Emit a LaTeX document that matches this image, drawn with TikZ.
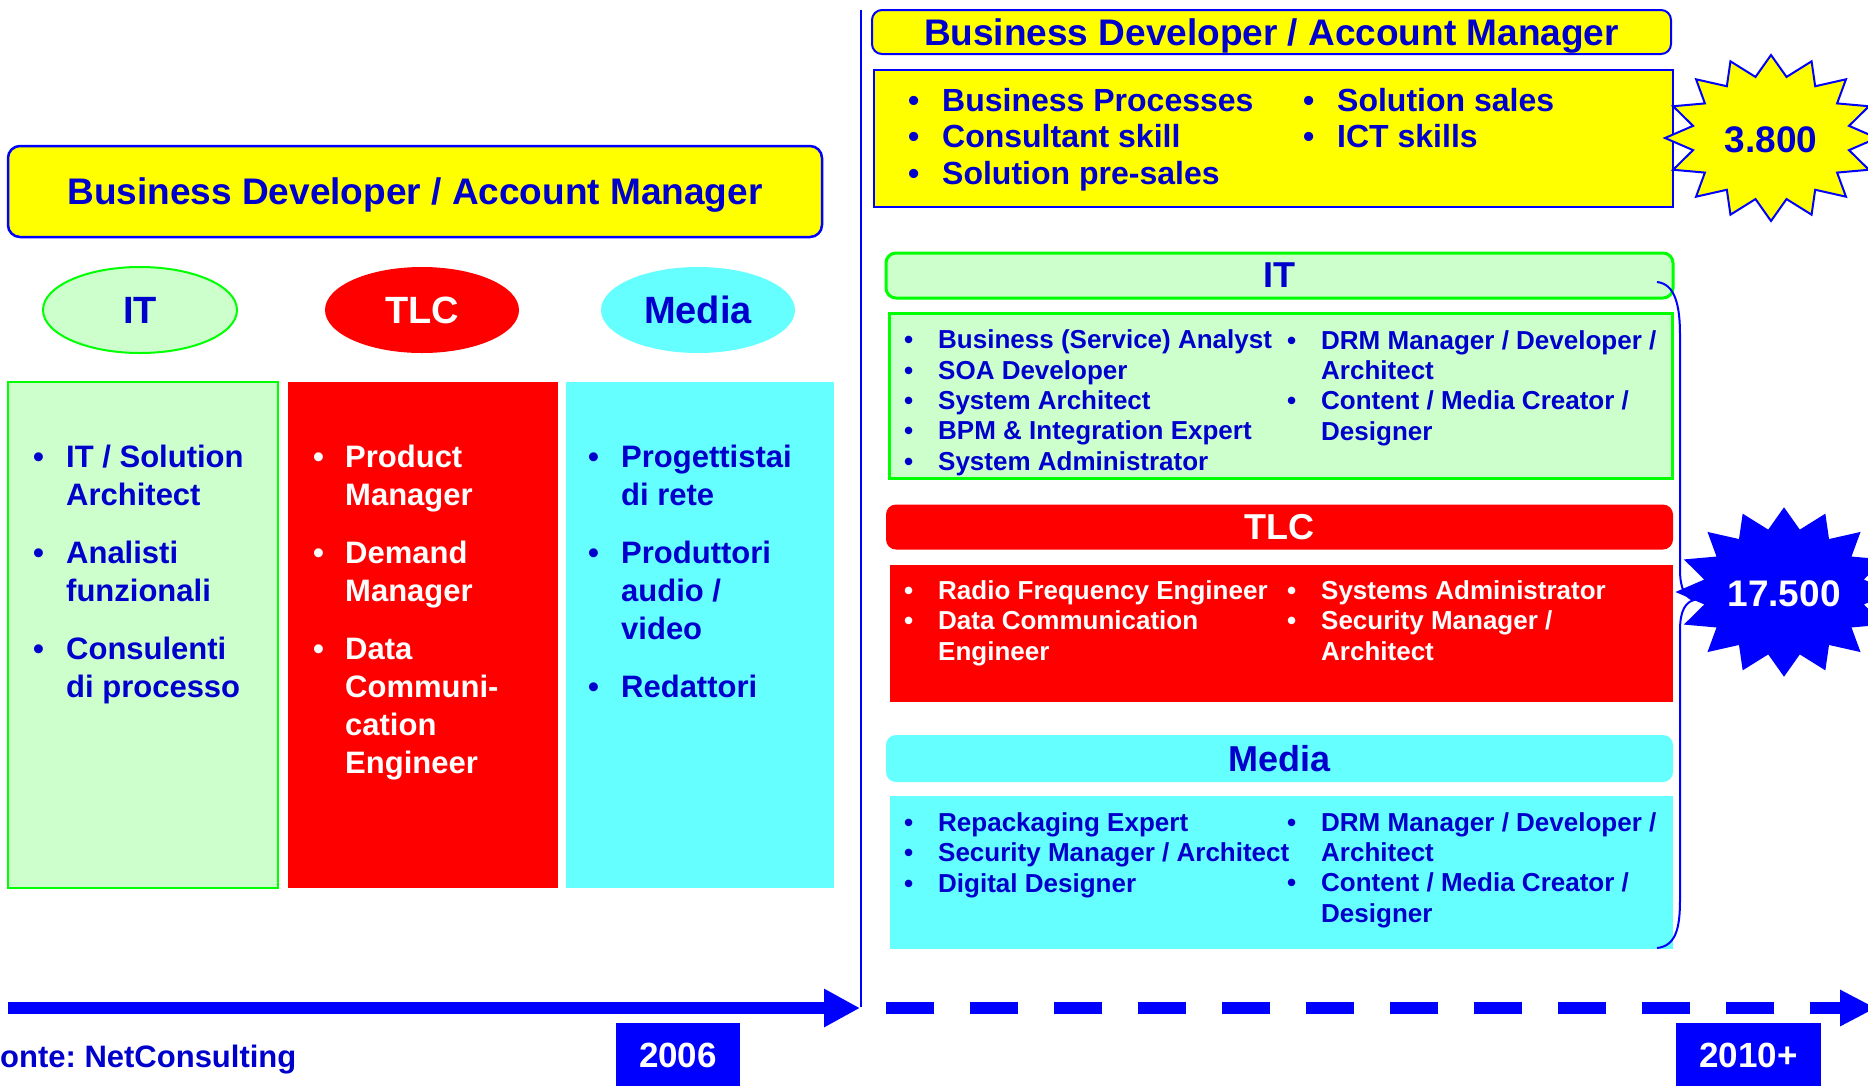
\documentclass[tikz,border=0pt]{standalone}
\usepackage{fontspec}
\setmainfont{Liberation Sans}
\usetikzlibrary{shapes.geometric,arrows.meta}
\definecolor{tblue}{RGB}{0,0,204}
\definecolor{ablue}{RGB}{0,0,255}
\definecolor{lgreen}{RGB}{204,255,204}
\definecolor{bgreen}{RGB}{0,255,0}
\definecolor{rred}{RGB}{255,0,0}
\definecolor{ccyan}{RGB}{102,255,255}
\definecolor{yyel}{RGB}{255,255,0}
\frenchspacing
\newcommand{\fs}[2]{\fontsize{#1}{#2}\selectfont\bfseries}
\newcommand{\bu}[1]{\makebox[#1][l]{•}}
\newcommand{\burst}[4]{%
  \filldraw[fill=#3, draw=#4, line width=2, line join=miter]
    plot[variable=\k, samples at={0,...,31}]
    ({#1+(1-0.25*mod(\k,2))*106*cos(\k*11.25)}, {#2+(1-0.25*mod(\k,2))*83*sin(\k*11.25)}) -- cycle;}
\tikzset{
  hdr/.style={draw=ablue, line width=2.5, fill=yyel, rounded corners=12, inner sep=0, font=\fs{37}{40}, text=tblue},
  oval/.style={ellipse, minimum width=194, minimum height=86, inner sep=0, font=\fs{38}{40}},
  colbox/.style={inner sep=0, minimum width=#1, minimum height=506},
  lstbig/.style={anchor=base west, align=left, inner sep=0, font=\fs{31}{38}},
  lsttop/.style={anchor=base west, align=left, inner sep=0, font=\fs{32}{36.5}, text=tblue},
  lstsm/.style={anchor=base west, align=left, inner sep=0, font=\fs{26}{30.3}},
  sechdr/.style={inner sep=0, rounded corners=10, minimum width=787, minimum height=45, font=\fs{36}{40}},
  secbody/.style={inner sep=0, minimum width=783},
  yearbox/.style={fill=ablue, inner sep=0, minimum height=64, text=white, font=\fs{35}{38}},
  startxt/.style={anchor=base, inner sep=0, font=\fs{37}{40}},
}
\begin{document}
\begin{tikzpicture}[x=1pt,y=-1pt]
\useasboundingbox (0,0) rectangle (1868,1085);
\clip (0,0) rectangle (1868,1085);

% ---------------- left (2006) ----------------
\node[hdr, minimum width=814, minimum height=91, text height=27, text depth=2] (bdL) at (415,191.5) {Business Developer / Account Manager};

\node[oval, fill=lgreen, draw=bgreen, line width=2, text=tblue] (eIT) at (140,310) {IT};
\node[oval, fill=rred, text=white] (eTLC) at (422,310) {TLC};
\node[oval, fill=ccyan, text=tblue] (eMed) at (698,310) {Media};

\node[colbox=270, fill=lgreen, draw=bgreen, line width=2] (cIT) at (143,635) {};
\node[colbox=270, fill=rred] (cTLC) at (423,635) {};
\node[colbox=268, fill=ccyan] (cMed) at (700,635) {};

% (base anchor = baseline of the last line)
\node[lstbig, text=tblue] (lIT) at (33,697) {\bu{33pt}IT / Solution\\\hspace*{33pt}Architect\\[20pt]\bu{33pt}Analisti\\\hspace*{33pt}funzionali\\[20pt]\bu{33pt}Consulenti\\\hspace*{33pt}di processo};
\node[lstbig, text=white] (lTLC) at (313,773) {\bu{32pt}Product\\\hspace*{32pt}Manager\\[20pt]\bu{32pt}Demand\\\hspace*{32pt}Manager\\[20pt]\bu{32pt}Data\\\hspace*{32pt}Communi-\\\hspace*{32pt}cation\\\hspace*{32pt}Engineer};
\node[lstbig, text=tblue] (lMed) at (588,697) {\bu{33pt}Progettistai\\\hspace*{33pt}di rete\\[20pt]\bu{33pt}Produttori\\\hspace*{33pt}audio /\\\hspace*{33pt}video\\[20pt]\bu{33pt}Redattori};

% separator
\coordinate (vT) at (861,10);
\coordinate (vB) at (861,1007);
\draw[ablue, line width=2] (vT) -- (vB);

% ---------------- right (2010+) ----------------
\node[hdr, line width=2, rounded corners=10, minimum width=799, minimum height=44, text height=27, text depth=0] (bdR) at (1271.5,32) {Business Developer / Account Manager};
\node[draw=ablue, line width=2, fill=yyel, inner sep=0, minimum width=799, minimum height=137] (skills) at (1273.5,138.5) {};
\node[lsttop] (sk1) at (908,184) {\bu{34pt}Business Processes\\\bu{34pt}Consultant skill\\\bu{34pt}Solution pre-sales};
\node[lsttop] (sk2) at (1303,147.5) {\bu{34pt}Solution sales\\\bu{34pt}ICT skills};

\burst{1771}{138}{yyel}{ablue}
\node[startxt, text=tblue] (n3800) at (1771,152) {3.800};

% IT
\node[sechdr, fill=lgreen, draw=bgreen, line width=3, text=tblue] (hIT) at (1279.5,275.5) {IT};
\node[secbody, minimum height=165, fill=lgreen, draw=bgreen, line width=3] (bIT) at (1281,395.5) {};
\node[lstsm, text=tblue] (it1) at (904,470) {\bu{34pt}Business (Service) Analyst\\\bu{34pt}SOA Developer\\\bu{34pt}System Architect\\\bu{34pt}BPM \& Integration Expert\\\bu{34pt}System Administrator};
\node[lstsm, text=tblue] (it2) at (1287,440) {\bu{34pt}DRM Manager / Developer /\\\hspace*{34pt}Architect\\\bu{34pt}Content / Media Creator /\\\hspace*{34pt}Designer};

% TLC
\node[sechdr, fill=rred, text=white] (hTLC) at (1279.5,527) {TLC};
\node[secbody, minimum height=137, fill=rred] (bTLC) at (1281.5,633.5) {};
\node[lstsm, text=white] (tl1) at (904,660) {\bu{34pt}Radio Frequency Engineer\\\bu{34pt}Data Communication\\\hspace*{34pt}Engineer};
\node[lstsm, text=white] (tl2) at (1287,660) {\bu{34pt}Systems Administrator\\\bu{34pt}Security Manager /\\\hspace*{34pt}Architect};

% Media
\node[sechdr, minimum height=47, fill=ccyan, text=tblue] (hMed) at (1279.5,758.5) {Media};
\node[secbody, minimum height=153, fill=ccyan] (bMed) at (1281.5,872.5) {};
\node[lstsm, text=tblue] (md1) at (904,892) {\bu{34pt}Repackaging Expert\\\bu{34pt}Security Manager / Architect\\\bu{34pt}Digital Designer};
\node[lstsm, text=tblue] (md2) at (1287,922) {\bu{34pt}DRM Manager / Developer /\\\hspace*{34pt}Architect\\\bu{34pt}Content / Media Creator /\\\hspace*{34pt}Designer};

% star 17.500 and brace
\burst{1784}{592}{ablue}{ablue}
\node[startxt, text=white] (n17500) at (1784,606) {17.500};
\coordinate (brT) at (1657,282);
\coordinate (brM) at (1694,600);
\coordinate (brB) at (1657,948);
\draw[ablue, line width=2] (brT) .. controls (1675,284) and (1680,305) .. (1680,335) -- (1680,570) .. controls (1680,590) and (1686,598) .. (brM) .. controls (1686,602) and (1680,610) .. (1680,630) -- (1680,900) .. controls (1680,930) and (1675,946) .. (brB);

% ---------------- timeline ----------------
\coordinate (t1s) at (8,1008);
\coordinate (t1e) at (860,1008);
\draw[ablue, line width=12, -{Triangle[length=36pt,width=36pt]}] (t1s) -- (t1e);
\coordinate (t2s) at (886,1008);
\coordinate (t2e) at (1876,1008);
\draw[ablue, line width=12, dash pattern=on 48pt off 36pt, -{Triangle[length=36pt,width=34pt]}] (t2s) -- (t2e);

\node[yearbox, minimum width=124] (y2006) at (678,1055) {2006};
\node[yearbox, minimum width=145] (y2010) at (1748.5,1055) {2010+};
\node[anchor=base west, inner sep=0, font=\fs{31}{34}, text=tblue] (src) at (0,1067) {onte: NetConsulting};
\end{tikzpicture}
\end{document}
